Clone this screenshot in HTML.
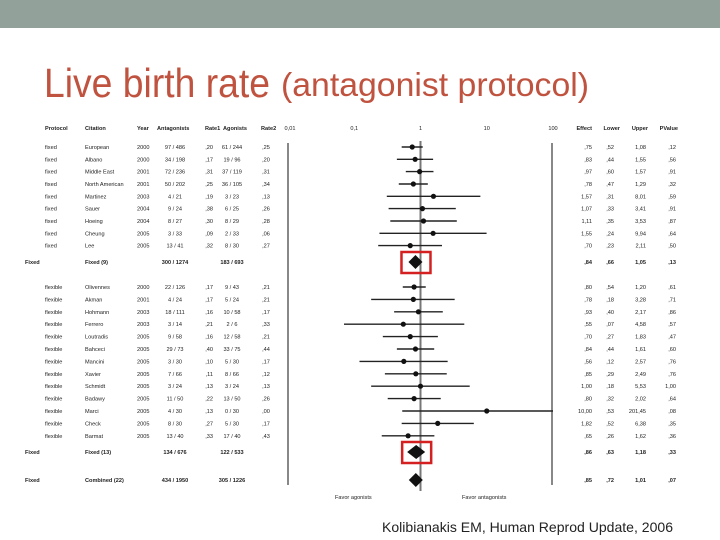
<!DOCTYPE html>
<html><head><meta charset="utf-8"><style>
body{margin:0;background:#fff}
svg{display:block;font-family:"Liberation Sans",sans-serif}
</style></head><body>
<svg id="s" width="720" height="540" viewBox="0 0 720 540">
<rect x="0" y="0" width="720" height="28" fill="#92a29a"/>
<text x="44" y="97" font-size="41" fill="#c0533f" textLength="226" lengthAdjust="spacingAndGlyphs">Live birth rate</text>
<text x="281" y="96" font-size="33" fill="#c0533f" textLength="308" lengthAdjust="spacingAndGlyphs">(antagonist protocol)</text>
<text x="382" y="532" font-size="14" fill="#222" textLength="291" lengthAdjust="spacingAndGlyphs">Kolibianakis EM, Human Reprod Update, 2006</text>
<g id="plot"></g>
</svg>
<script>
const studyNames=["European","Albano","Middle East","North American","Martinez","Sauer","Hoeing","Cheung","Lee","Fixed (9)","Olivennes","Akman","Hohmann","Ferrero","Loutradis","Bahceci","Mancini","Xavier","Schmidt","Badawy","Marci","Check","Barmat","Fixed (13)","Combined (22)"];
const protocols=["fixed","fixed","fixed","fixed","fixed","fixed","fixed","fixed","fixed","Fixed","flexible","flexible","flexible","flexible","flexible","flexible","flexible","flexible","flexible","flexible","flexible","flexible","flexible","Fixed","Fixed"];
const years=["2000","2000","2001","2001","2003","2004","2004","2005","2005","","2000","2001","2003","2003","2005","2005","2005","2005","2005","2005","2005","2005","2005","",""];
const antagonists=["97 / 486","34 / 198","72 / 236","50 / 202","4 / 21","9 / 24","8 / 27","3 / 33","13 / 41","300 / 1274","22 / 126","4 / 24","18 / 111","3 / 14","9 / 58","29 / 73","3 / 30","7 / 66","3 / 24","11 / 50","4 / 30","8 / 30","13 / 40","134 / 676","434 / 1950"];
const rate1=[",20",",17",",31",",25",",19",",38",",30",",09",",32","",",17",",17",",16",",21",",16",",40",",10",",11",",13",",22",",13",",27",",33","",""];
const agonists=["61 / 244","19 / 96","37 / 119","36 / 105","3 / 23","6 / 25","8 / 29","2 / 33","8 / 30","183 / 693","9 / 43","5 / 24","10 / 58","2 / 6","12 / 58","33 / 75","5 / 30","8 / 66","3 / 24","13 / 50","0 / 30","5 / 30","17 / 40","122 / 533","305 / 1226"];
const rate2=[",25",",20",",31",",34",",13",",26",",28",",06",",27","",",21",",21",",17",",33",",21",",44",",17",",12",",13",",26",",00",",17",",43","",""];
const effects=[0.75,0.83,0.97,0.78,1.57,1.07,1.11,1.55,0.70,0.84,0.80,0.78,0.93,0.55,0.70,0.84,0.56,0.85,1.00,0.80,10.00,1.82,0.65,0.86,0.85];
const lowers=[0.52,0.44,0.60,0.47,0.31,0.33,0.35,0.24,0.23,0.66,0.54,0.18,0.40,0.07,0.27,0.44,0.12,0.29,0.18,0.32,0.53,0.52,0.26,0.63,0.72];
const uppers=[1.08,1.55,1.57,1.29,8.01,3.41,3.53,9.94,2.11,1.05,1.20,3.28,2.17,4.58,1.83,1.61,2.57,2.49,5.53,2.02,201.45,6.38,1.62,1.18,1.01];
const pvalues=[",12",",56",",91",",32",",59",",91",",87",",64",",50",",13",",61",",71",",86",",57",",47",",60",",76",",76","1,00",",64",",08",",35",",36",",33",",07"];
const isSummary=[0,0,0,0,0,0,0,0,0,1,0,0,0,0,0,0,0,0,0,0,0,0,0,1,1];
const axisTicks=[0.01,0.1,1,10,100];
const axisTickLabels=["0,01","0,1","1","10","100"];
const headers=["Protocol","Citation","Year","Antagonists","Rate1","Agonists","Rate2","Effect","Lower","Upper","PValue"];

const NS="http://www.w3.org/2000/svg";
const g=document.getElementById('plot');
const X0=288,X1=553;
function xScale(v){v=Math.max(0.01,Math.min(100,v));return X0+(Math.log10(v)+2)/4*(X1-X0);}
const rowY=[147,159.3,171.6,184,196.3,208.6,221,233.3,245.6,262,287,299.4,311.8,324.2,336.6,349,361.4,373.8,386.2,398.6,411,423.4,435.8,452,480];
function el(tag,attrs,txt){const e=document.createElementNS(NS,tag);for(const k in attrs)e.setAttribute(k,attrs[k]);if(txt!==undefined)e.textContent=txt;g.appendChild(e);return e;}
function txt(x,y,s,anchor,bold,name){const e=el('text',{x:x,y:y,'font-size':5.6,fill:'#222','text-anchor':anchor||'start','font-weight':bold?'bold':'normal'},s);

return e;}
const hx=[45,85,137,157,205,223,261,592,620,648,678];
const ha=['start','start','start','start','start','start','start','end','end','end','end'];
headers.forEach((h,i)=>txt(hx[i],130,h,ha[i],true,'column-header'));
axisTicks.forEach((t,i)=>txt(xScale(t)+(i==0?2:0),130,axisTickLabels[i],'middle',false,'axis-tick-label'));
let l=el('line',{x1:X0,x2:X0,y1:143,y2:485,stroke:'#111','stroke-width':1});


l=el('line',{x1:X1-1,x2:X1-1,y1:143,y2:485,stroke:'#111','stroke-width':1});


l=el('line',{x1:xScale(1),x2:xScale(1),y1:141,y2:491,stroke:'#777','stroke-width':2});


effects.forEach((e,i)=>{
  const y=rowY[i],b=isSummary[i];
  if(i==9||i==23||i==24){txt(25,y+2,'Fixed','start',b,'summary-model');}
  else txt(45,y+2,protocols[i],'start',false,'protocol-cell');
  txt(85,y+2,studyNames[i],'start',b,'citation-cell');
  txt(137,y+2,years[i],'start',false,'year-cell');
  txt(175,y+2,antagonists[i],'middle',b,'antagonists-cell');
  txt(213,y+2,rate1[i],'end',false,'rate1-cell');
  txt(232,y+2,agonists[i],'middle',b,'agonists-cell');
  txt(266,y+2,rate2[i],'middle',false,'rate2-cell');
  txt(592,y+2,String(e.toFixed(2)).replace('.',',').replace(/^0/,''),'end',b,'effect-cell');
  txt(614,y+2,String(lowers[i].toFixed(2)).replace('.',',').replace(/^0/,''),'end',b,'lower-cell');
  txt(646,y+2,String(uppers[i].toFixed(2)).replace('.',',').replace(/^0/,''),'end',b,'upper-cell');
  txt(676,y+2,pvalues[i],'end',b,'pvalue-cell');
  const cx=xScale(e);
  if(b){
    const w=(i==23)?9:7,h=7;
    const d=el('polygon',{points:`${cx-w},${y} ${cx},${y-h} ${cx+w},${y} ${cx},${y+h}`,fill:'#111'});
    
    
  } else {
    const ci=el('line',{x1:xScale(lowers[i]),x2:xScale(uppers[i]),y1:y,y2:y,stroke:'#222','stroke-width':1.4});
    
    
    const p=el('circle',{cx:cx,cy:y,r:2.6,fill:'#111'});
    
    
  }
});
[[9],[23]].forEach(([i])=>{
  const r=el('rect',{x:xScale(effects[i])-14,y:rowY[i]-10,width:29,height:21,fill:'none',stroke:'#d42020','stroke-width':2.5});
  
  
});
txt(335,499,'Favor agonists','start',false,'favor-agonists-label');
txt(462,499,'Favor antagonists','start',false,'favor-antagonists-label');
</script>
</body></html>
